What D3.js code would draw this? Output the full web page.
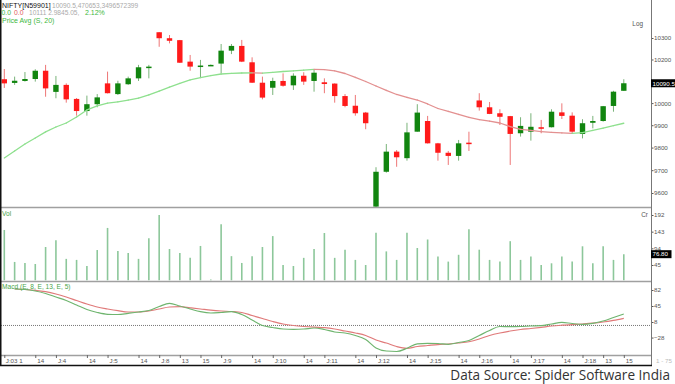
<!DOCTYPE html>
<html><head><meta charset="utf-8">
<script src="https://cdn.jsdelivr.net/npm/d3@7"></script>
<style>body{margin:0;background:#fff}svg{display:block}</style>
</head><body><svg id="c" width="675" height="384"></svg>
<script>
// ---- data ----
const opens  = [10109,10092,10101,10110,10148,10051,10083,10019,9964,9995,10090,10041,10086,10113,10164,10327,10299,10290,10190,10170,10173,10181,10241,10263,10187,10093,10070,10101,10081,10125,10101,10095,10089,10032,9988,9957,9541,9693,9782,9753,9871,9919,9819,9777,9763,9822,10012,9981,9954,9941,9864,9871,9891,9891,9958,9943,9861,9911,9919,9987,10056];
const highs  = [10156,10121,10142,10155,10175,10124,10090,10023,10034,10041,10144,10102,10121,10175,10175,10328,10314,10291,10221,10198,10177,10272,10272,10291,10210,10121,10116,10136,10136,10141,10152,10113,10090,10041,10037,9960,9713,9816,9789,9911,9995,9942,9821,9785,9834,9871,10045,10005,9972,9942,9936,9954,9924,9972,9999,9958,9927,9942,9987,10056,10109];
const lows   = [10069,10083,10098,10098,10029,10022,10002,9943,9943,9981,10044,10037,10083,10101,10113,10259,10275,10184,10148,10118,10172,10136,10225,10188,10092,10017,10037,10075,10060,10083,10052,10045,10002,9981,9943,9882,9520,9689,9715,9742,9871,9818,9742,9723,9742,9785,9966,9950,9901,9723,9849,9831,9864,9890,9928,9861,9841,9886,9916,9961,10055];
const closes = [10090,10102,10110,10148,10067,10083,10017,9964,9995,10026,10045,10090,10113,10164,10167,10299,10287,10185,10167,10172,10175,10241,10263,10190,10093,10025,10101,10079,10125,10098,10139,10087,10032,9987,9954,9909,9693,9782,9757,9868,9957,9819,9777,9763,9819,9817,9981,9951,9938,9861,9897,9893,9884,9961,9942,9871,9909,9919,9986,10052,10090.5];
const volumes= [148,54,51,48,98,118,63,60,42,89,154,86,80,63,124,192,92,80,66,101,2,165,71,51,71,98,130,45,42,66,92,139,66,90,60,45,140,85,60,140,95,120,70,55,75,150,90,60,55,115,60,70,45,50,70,55,100,50,100,60,76.8];
const priceAvg=[9754,9785,9816,9843,9870,9892,9910,9937,9969,9987,10000,10006,10014,10023,10037,10055,10073,10090,10106,10116,10126,10133,10136,10137.6,10138.5,10136.7,10140.4,10144.5,10147.8,10150.6,10154.3,10153.4,10147.8,10135.3,10117,10098.6,10078,10057.5,10039.2,10025.5,10014,9996,9975.5,9962,9948.5,9935,9925,9918,9910,9894,9881,9876.5,9871.2,9867.6,9865.4,9863.6,9867.2,9876.5,9886.7,9898.2,9908.9];
const macdLine=[null,84.3,83.2,79.7,73.9,65.8,57.7,47.3,36.9,30.0,25.8,25.3,28.1,31.1,34.6,43.8,51.2,45.0,38.1,31.8,28.8,30.0,31.8,25.3,12.6,-0.1,-4.7,-8.2,-8.9,-8.2,-5.9,-9.3,-15.1,-17.4,-23.2,-32.5,-52.1,-59.1,-60.2,-52.8,-42.4,-41.3,-41.7,-43.6,-39.4,-34.8,-23.2,-11.7,-2.4,-2.9,-2.4,-1.3,-0.6,3.4,7.3,4.5,2.7,5.0,10.3,18.4,26.5];
const signalLine=[null,84.3,83.2,81.3,78.1,72.8,65.8,57.7,49.6,42.7,38.1,34.1,31.1,31.1,33.4,38.1,42.7,43.4,40.8,38.1,35.3,33.4,32.3,30.0,23.0,16.1,9.2,3.4,-0.1,-2.4,-4.0,-5.2,-8.2,-12.8,-17.4,-23.2,-33.6,-40.6,-48.7,-52.8,-48.7,-46.4,-44.1,-42.9,-40.6,-37.6,-31.3,-23.2,-17.4,-12.8,-9.3,-7.0,-4.3,-1.3,0.6,2.0,3.4,5.2,8.0,11.9,16.6];
const xLabelIdx = [0,3,5,8,10,13,15,17,19,21,24,26,29,31,34,36,39,41,44,46,49,51,54,56,58,60];
const xLabels   = ["J:03 1","14","J:4","14","J:5","14","J:8","13","15","J:9","14","J:10","14","J:11","14","J:12","14","J:15","14","J:16","14","J:17","14","J:18","13","15"];
const priceTicks=[9600,9700,9800,9900,10000,10200,10300];
const volTicks=[45,94,143,192];
const macdTicks=[-28,8,45,82];

// ---- layout ----
const svg=d3.select('#c');
const F='"Liberation Sans",Arial,sans-serif';
const AX=651;
const x=d3.scaleLinear().domain([0,60]).range([4.3,623.8]);
const yP=d3.scaleLog().domain([9600,10300]).range([193,38]);
const yV=d3.scaleLinear().domain([0,192]).range([280.3,215]);
const yM=d3.scaleLinear().domain([-28,82]).range([337.57,290]);
const idx=d3.range(closes.length);

const defs=svg.append('defs');
[['cp',0,207],['cv',208,281],['cm',282,355]].forEach(([id,a,b])=>{
  defs.append('clipPath').attr('id',id).append('rect').attr('x',1).attr('y',a).attr('width',AX-1).attr('height',b-a);
});

// separators
[207.5,281.5,355.5].forEach(y=>svg.append('line').attr('x1',0).attr('x2',AX).attr('y1',y).attr('y2',y).attr('stroke','#a0a0a0').attr('stroke-width',1.5));

// price panel
const gp=svg.append('g').attr('clip-path','url(#cp)');
const up=i=>closes[i]>=opens[i];
gp.selectAll('line.w').data(idx).join('line')
  .attr('x1',i=>x(i)).attr('x2',i=>x(i)).attr('y1',i=>yP(highs[i])).attr('y2',i=>yP(lows[i]))
  .attr('stroke',i=>up(i)?'#79b379':'#ee7676').attr('stroke-width',1);
gp.selectAll('rect.b').data(idx).join('rect')
  .attr('x',i=>x(i)-2.7).attr('width',5.4)
  .attr('y',i=>Math.min(yP(opens[i]),yP(closes[i])))
  .attr('height',i=>Math.max(1.5,Math.abs(yP(opens[i])-yP(closes[i]))))
  .attr('fill',i=>up(i)?'#11850f':'#ff1a1a');
// price avg line, coloured by slope
gp.selectAll('line.ma').data(idx.slice(1)).join('line')
  .attr('x1',i=>x(i-1)).attr('x2',i=>x(i)).attr('y1',i=>yP(priceAvg[i-1])).attr('y2',i=>yP(priceAvg[i]))
  .attr('stroke',i=>priceAvg[i]>=priceAvg[i-1]?'#8ee08e':'#e39090').attr('stroke-width',1.3).attr('stroke-linecap','round');

// volume panel
const gv=svg.append('g').attr('clip-path','url(#cv)');
gv.selectAll('line').data(idx).join('line')
  .attr('x1',i=>x(i)).attr('x2',i=>x(i)).attr('y1',yV(0)).attr('y2',i=>yV(volumes[i]))
  .attr('stroke','#8cc79a').attr('stroke-width',1.6);

// macd panel
const gm=svg.append('g').attr('clip-path','url(#cm)');
gm.append('line').attr('x1',1).attr('x2',AX).attr('y1',yM(0)).attr('y2',yM(0))
  .attr('stroke','#777').attr('stroke-width',1).attr('stroke-dasharray','1,1');
const ln=arr=>d3.line().defined(i=>arr[i]!=null).x(i=>x(i)).y(i=>yM(arr[i])).curve(d3.curveMonotoneX)(idx);
gm.append('path').attr('d',ln(signalLine)).attr('fill','none').attr('stroke','#e07a7a').attr('stroke-width',1.2);
gm.append('path').attr('d',ln(macdLine)).attr('fill','none').attr('stroke','#6fb56f').attr('stroke-width',1.2);

// right axes
function rAxis(scale,ticks,fmt){
  const g=svg.append('g').attr('transform',`translate(${AX},0)`)
    .call(d3.axisRight(scale).tickValues(ticks).tickSize(2.5).tickSizeOuter(0).tickFormat(fmt));
  g.select('.domain').remove();
  g.selectAll('line').attr('stroke','#555');
  g.selectAll('text').attr('x',3).attr('font-family',F).attr('font-size',6.2).attr('fill','#555');
  return g;
}
rAxis(yP,priceTicks,d3.format('d'));
rAxis(yV,volTicks,d3.format('d'));
rAxis(yM,macdTicks,d3.format('d'));
svg.append('line').attr('x1',AX+0.5).attr('x2',AX+0.5).attr('y1',0).attr('y2',365).attr('stroke','#777').attr('stroke-width',1);

// value boxes
function box(y,txt){
  svg.append('rect').attr('x',AX).attr('y',y-4).attr('width',txt.length*3.5+3).attr('height',8).attr('fill','#000');
  svg.append('text').attr('x',AX+1.5).attr('y',y+2.3).text(txt).attr('font-family',F).attr('font-size',6.2).attr('fill','#fff');
}
box(yP(closes[60]),'10090.5');
box(yV(volumes[60]),d3.format('.2f')(volumes[60]));

// bottom axis
const gx=svg.append('g').attr('transform','translate(0,355)')
  .call(d3.axisBottom(x).tickValues(xLabelIdx).tickSize(3).tickSizeOuter(0).tickFormat((d,i)=>xLabels[i]));
gx.select('.domain').remove();
gx.selectAll('line').attr('stroke','#666');
gx.selectAll('text').attr('text-anchor','start').attr('x',1.5).attr('y',3).attr('dy','0.78em')
  .attr('font-family',F).attr('font-size',6.2).attr('fill','#555');
gx.select('.tick:first-child text').attr('x',1);

// frame
svg.append('line').attr('x1',0.75).attr('x2',0.75).attr('y1',0).attr('y2',366).attr('stroke','#111').attr('stroke-width',1.5);
svg.append('line').attr('x1',0).attr('x2',AX+1).attr('y1',365.5).attr('y2',365.5).attr('stroke','#111').attr('stroke-width',1.5);

// texts
const t=(xx,yy,s,c,fs,anchor)=>svg.append('text').attr('x',xx).attr('y',yy).text(s).attr('font-family',F).attr('font-size',fs||6.8).attr('fill',c).attr('text-anchor',anchor||'start');
t(2,7.5,'NIFTY[N59901]','#111',7);
t(52,7.5,'10090.5,470653,3496572399','#aaa',6.6);
t(1.5,15,'0.0','#3db83d',6.8);
t(14,15,'0.0','#e05a5a',6.8);
t(29,15,'10111 2.9845.05,','#aaa',6.6);
t(85,15,'2.12%','#3db83d',7);
t(2,23,'Price Avg (S, 20)','#3db83d',7);
t(643,26,'Log','#555',6.4,'end');
t(2,216,'Vol','#4aa54a',6.6);
t(648,217,'Cr','#555',6.4,'end');
t(2,289,'Macd (E, 8, E, 13, E, 5)','#4aa54a',6.6);
t(656,363,'1 - 75','#bbb',6.2);
svg.append('text').attr('x',670).attr('y',380).attr('text-anchor','end').text('Data Source: Spider Software India')
  .attr('font-family','"Open Sans",sans-serif').attr('font-size',13.6).attr('fill','#333');
</script></body></html>
